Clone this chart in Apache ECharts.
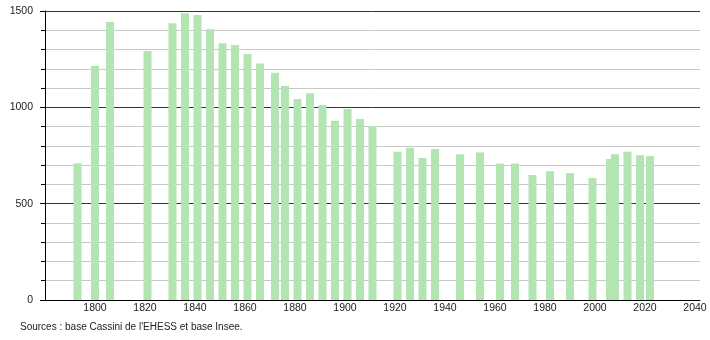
<!DOCTYPE html>
<html><head><meta charset="utf-8">
<script src="https://cdn.jsdelivr.net/npm/echarts@6/dist/echarts.min.js"></script>
<style>html,body{margin:0;padding:0;background:#fff}#c{width:710px;height:340px}</style>
</head><body><div id="c"></div>
<script>
const years = [1793,1800,1806,1821,1831,1836,1841,1846,1851,1856,1861,1866,1872,1876,1881,1886,1891,1896,1901,1906,1911,1921,1926,1931,1936,1946,1954,1962,1968,1975,1982,1990,1999,2006,2008,2013,2018,2022];
const population = [710,1214,1443,1292,1436,1488,1479,1405,1332,1323,1277,1228,1180,1111,1043,1073,1012,931,991,939,903,770,790,737,784,757,766,709,708,649,668,659,633,732,756,770,751,747];
const yTicks = [0,500,1000,1500];
const source = "Sources : base Cassini de l'EHESS et base Insee.";

const chart = echarts.init(document.getElementById('c'), null, {renderer:'canvas'});
const font = 'Liberation Sans, Arial, sans-serif';
chart.setOption({
  animation:false,
  grid:{left:45,right:10,top:11,bottom:40},
  xAxis:{type:'value',min:1780,max:2042,interval:20,
    axisLine:{show:true,onZero:false,lineStyle:{color:'#000',width:1}},
    axisTick:{show:false},
    splitLine:{show:false},
    axisLabel:{showMinLabel:false,showMaxLabel:false,color:'#222',fontFamily:font,fontSize:10.5,margin:3,
      formatter:v=>String(v)}
  },
  yAxis:{type:'value',min:0,max:1500,interval:500,
    axisLine:{show:true,lineStyle:{color:'#000',width:1}},
    axisTick:{show:true,length:5,lineStyle:{color:'#000'}},
    minorTick:{show:true,splitNumber:5,length:4,lineStyle:{color:'#000'}},
    splitLine:{show:true,lineStyle:{color:'#333',width:1}},
    minorSplitLine:{show:true,lineStyle:{color:'#c8c8c8',width:1}},
    axisLabel:{color:'#222',fontFamily:font,fontSize:10.5,margin:12,
      formatter:v=>yTicks.includes(v)?String(v):''}
  },
  series:[{type:'bar',data:years.map((y,i)=>[y,population[i]]),barWidth:8,
    itemStyle:{color:'#b2e5b2'},z:3}],
  graphic:[{type:'text',left:20,top:322,style:{text:source,fill:'#222',font:'10px '+font}}]
});
</script></body></html>
